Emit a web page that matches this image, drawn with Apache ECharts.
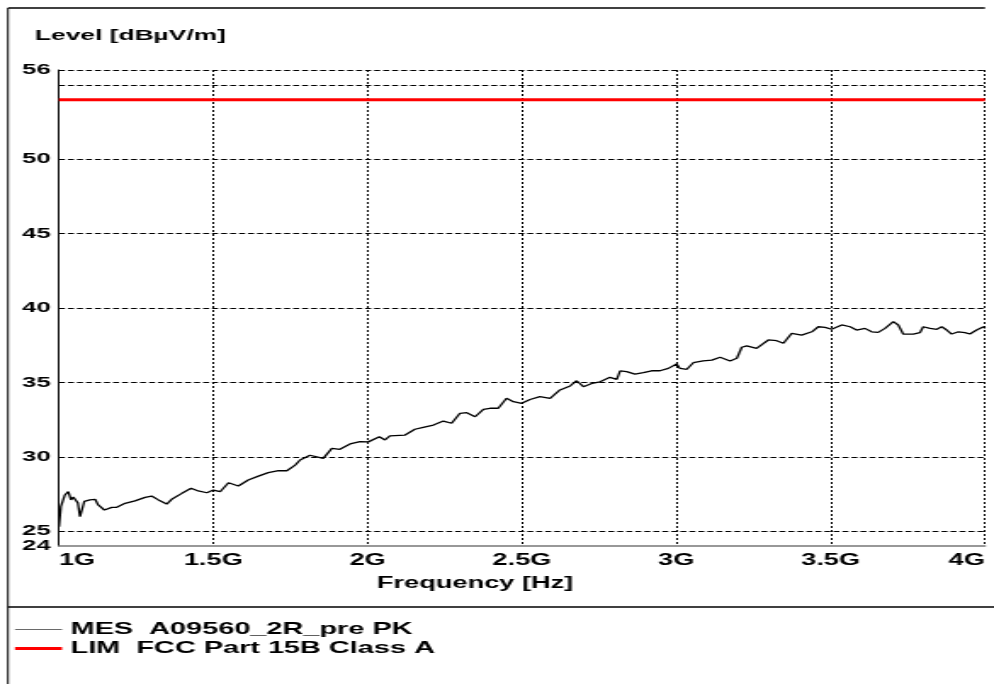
<!DOCTYPE html>
<html>
<head>
<meta charset="utf-8">
<script src="https://cdn.jsdelivr.net/npm/echarts@6/dist/echarts.min.js"></script>
<style>
  html, body { margin: 0; padding: 0; background: #fff; overflow: hidden; }
  #wrap { width: 994px; height: 684px; overflow: hidden; }
  #chart { width: 585px; height: 684px; transform: scaleX(1.6991); transform-origin: 0 0; }
</style>
</head>
<body>
<div id="wrap"><div id="chart"></div></div>
<script>
// ---- data (frequency in MHz, level in dBµV/m) ----
const freqMHz = [1000, 1006, 1019, 1030, 1039, 1046, 1054, 1061, 1068, 1074, 1082, 1090, 1100, 1117, 1127, 1147, 1171, 1187, 1214, 1246, 1279, 1300, 1322, 1349, 1365, 1398, 1428, 1451, 1479, 1500, 1522, 1549, 1560, 1581, 1613, 1646, 1678, 1711, 1738, 1765, 1781, 1813, 1856, 1884, 1910, 1943, 1975, 2002, 2013, 2038, 2056, 2072, 2121, 2132, 2153, 2180, 2213, 2245, 2272, 2299, 2321, 2348, 2375, 2396, 2423, 2450, 2472, 2499, 2526, 2558, 2591, 2623, 2656, 2677, 2699, 2726, 2753, 2785, 2807, 2818, 2839, 2866, 2893, 2920, 2947, 2974, 3001, 3012, 3034, 3055, 3087, 3115, 3142, 3174, 3196, 3212, 3228, 3260, 3271, 3298, 3325, 3347, 3374, 3406, 3439, 3460, 3482, 3503, 3536, 3563, 3584, 3611, 3633, 3654, 3676, 3703, 3719, 3735, 3768, 3789, 3800, 3822, 3844, 3860, 3876, 3892, 3914, 3935, 3951, 3973, 3995, 4000];
const levelMES = [25.3, 26.64, 27.43, 27.65, 27.1, 27.3, 27.3, 26.9, 25.97, 26.1, 27.0, 26.87, 27.1, 27.14, 26.76, 26.42, 26.6, 26.6, 26.87, 27.03, 27.27, 27.36, 27.1, 26.82, 27.14, 27.54, 27.88, 27.7, 27.58, 27.76, 27.65, 28.25, 28.25, 28.03, 28.44, 28.7, 28.93, 29.06, 29.06, 29.44, 29.78, 30.1, 29.89, 30.56, 30.5, 30.86, 31.01, 31.0, 30.9, 31.35, 31.13, 31.4, 31.46, 31.35, 31.85, 31.98, 32.13, 32.4, 32.25, 32.92, 32.96, 32.69, 33.19, 33.26, 33.26, 33.93, 33.7, 33.59, 33.85, 34.04, 33.93, 34.49, 34.76, 35.11, 34.71, 34.93, 35.04, 35.34, 35.2, 35.78, 35.72, 35.56, 35.65, 35.78, 35.78, 35.94, 36.24, 35.94, 35.88, 36.32, 36.44, 36.5, 36.69, 36.44, 36.62, 37.36, 37.45, 37.29, 37.22, 37.85, 37.8, 37.63, 38.3, 38.18, 38.4, 38.74, 38.7, 38.57, 38.86, 38.74, 38.52, 38.63, 38.4, 38.36, 38.63, 39.08, 38.86, 38.25, 38.25, 38.34, 38.74, 38.63, 38.57, 38.74, 38.52, 38.25, 38.4, 38.34, 38.25, 38.52, 38.74, 38.63];
const limitFreq = [1000, 4000];
const limitLevel = [54, 54];
const yTickLabels = [24, 25, 30, 35, 40, 45, 50, 56];
const hGridLevels = [25, 30, 35, 40, 45, 50, 55, 56];
const seriesNames = ['MES  A09560_2R_pre PK', 'LIM  FCC Part 15B Class A'];
const yAxisTitle = 'Level [dBµV/m]';
const xAxisTitle = 'Frequency [Hz]';

const FONT = '"Liberation Sans", Arial, sans-serif';
const chart = echarts.init(document.getElementById('chart'));

const legendText = { color: '#000', fontFamily: FONT, fontWeight: 'bold', fontSize: 17 };

chart.setOption({
  animation: false,
  backgroundColor: '#fff',
  textStyle: { fontFamily: FONT },
  grid: { left: 34.72, right: 5.3, top: 70, bottom: 138, containLabel: false },
  xAxis: {
    type: 'value', min: 1000, max: 4000, interval: 500,
    axisLine: { show: true, onZero: false, lineStyle: { color: '#777', width: 1.5 } },
    axisTick: { show: false },
    axisLabel: {
      color: '#000', fontFamily: FONT, fontWeight: 'bold', fontSize: 16, margin: 7,
      alignMinLabel: 'left', alignMaxLabel: 'right',
      formatter: v => (v / 1000) + 'G'
    },
    splitLine: { show: true, lineStyle: { color: '#000', width: 1, type: [2, 2] } }
  },
  yAxis: {
    type: 'value', min: 24, max: 56, interval: 1,
    axisLine: { show: true, onZero: false, lineStyle: { color: '#000', width: 1 } },
    axisTick: { show: false },
    axisLabel: {
      color: '#000', fontFamily: FONT, fontWeight: 'bold', fontSize: 15, margin: 5,
      formatter: v => (yTickLabels.indexOf(v) >= 0 ? String(v) : '')
    },
    splitLine: { show: false }
  },
  legend: [
    {
      orient: 'vertical', left: 8.8, top: 621, padding: 0,
      itemWidth: 27.7, itemHeight: 1, itemGap: 5,
      textStyle: legendText,
      data: [{ name: seriesNames[0], icon: 'rect', itemStyle: { color: '#6a6a6a' } }]
    },
    {
      orient: 'vertical', left: 8.8, top: 640, padding: 0,
      itemWidth: 27.7, itemHeight: 3, itemGap: 5,
      textStyle: legendText,
      data: [{ name: seriesNames[1], icon: 'rect', itemStyle: { color: '#ff0000' } }]
    }
  ],
  graphic: [
    { type: 'line', shape: { x1: 4.7, y1: 8, x2: 4.7, y2: 684 }, style: { stroke: '#000', lineWidth: 1 }, silent: true },
    { type: 'line', shape: { x1: 4.7, y1: 8, x2: 579.7, y2: 8 }, style: { stroke: '#000', lineWidth: 1.5 }, silent: true },
    { type: 'line', shape: { x1: 4.7, y1: 607, x2: 585, y2: 607 }, style: { stroke: '#000', lineWidth: 1.5 }, silent: true },
    { type: 'text', left: 20.6, top: 28, style: { text: yAxisTitle, fill: '#000', font: 'bold 15.5px ' + FONT } },
    { type: 'text', x: 279.6, y: 584, style: { text: xAxisTitle, fill: '#000', font: 'bold 16px ' + FONT, align: 'center', verticalAlign: 'middle' } }
  ],
  series: [
    {
      name: 'grid', type: 'line', data: [], z: 1, silent: true,
      markLine: {
        silent: true, symbol: ['none', 'none'], label: { show: false },
        lineStyle: { color: '#000', width: 1, type: [3.5, 1.8] },
        emphasis: { disabled: true },
        data: hGridLevels.map(v => ({ yAxis: v }))
      }
    },
    {
      name: seriesNames[0], type: 'line', z: 3,
      data: freqMHz.map((f, i) => [f, levelMES[i]]),
      showSymbol: false, symbol: 'none',
      lineStyle: { color: '#000', width: 1.3 }, itemStyle: { color: '#000' }
    },
    {
      name: seriesNames[1], type: 'line', z: 4,
      data: limitFreq.map((f, i) => [f, limitLevel[i]]),
      showSymbol: false, symbol: 'none',
      lineStyle: { color: '#ff0000', width: 3 }, itemStyle: { color: '#ff0000' }
    }
  ]
});
</script>
</body>
</html>
